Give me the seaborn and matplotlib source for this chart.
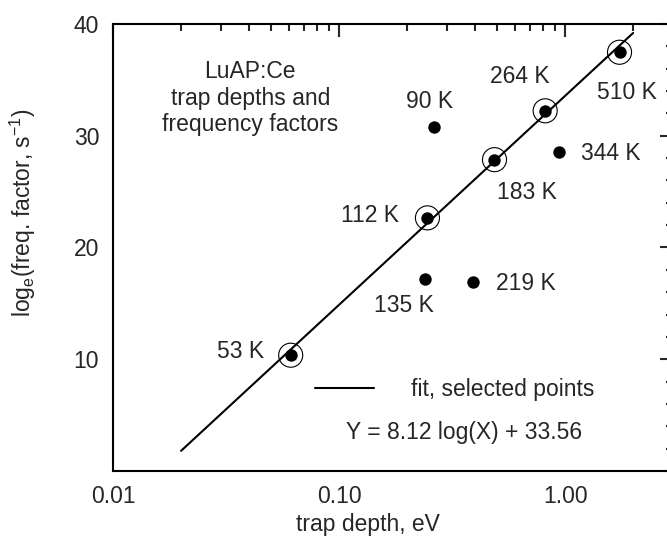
import numpy as np
import pandas as pd
import seaborn as sns
import matplotlib
matplotlib.use('Agg')
from matplotlib import pyplot as plt
from matplotlib.ticker import FixedLocator, LogLocator, MultipleLocator, NullFormatter

# trap data
temps = ['53 K', '112 K', '183 K', '264 K', '510 K', '90 K', '344 K', '135 K', '219 K']
depth = [0.0611, 0.246, 0.487, 0.816, 1.74, 0.263, 0.944, 0.239, 0.390]
ln_freq = [10.36, 22.65, 27.86, 32.23, 37.47, 30.74, 28.54, 17.14, 16.90]
selected = [True, True, True, True, True, False, False, False, False]

# fit line end points
fit_x = [0.02, 2.0]
fit_y = [1.8, 39.2]

x_ticks = [0.01, 0.1, 1.0]
x_tick_labels = ['0.01', '0.10', '1.00']
y_ticks = [10, 20, 30, 40]

# label offsets (points) from each marker
label_dx = [-36, -41, 23, -18, 5, -3, 37, -15, 38]
label_dy = [3, 2, -24, 25, -29, 19, -1, -19, -1]

df = pd.DataFrame({'depth': depth, 'lnf': ln_freq, 'temp': temps, 'sel': selected})
sel = df[df['sel']]

sns.set_style('white')
plt.rcParams['font.family'] = ['Liberation Sans', 'DejaVu Sans']
plt.rcParams['mathtext.fontset'] = 'custom'
plt.rcParams['mathtext.rm'] = 'Liberation Sans'
fs = 16.5

fig = plt.figure(figsize=(6.67, 5.4), dpi=100)
ax = fig.add_axes([0.1694, 0.1278, 0.8396, 0.8278])

sns.lineplot(x=fit_x, y=fit_y, ax=ax, color='black', linewidth=1.5, label='fit, selected points')
sns.scatterplot(data=sel, x='depth', y='lnf', ax=ax, s=300, facecolor='none',
                edgecolor='black', linewidth=0.8, legend=False, zorder=3)
sns.scatterplot(data=df, x='depth', y='lnf', ax=ax, s=80, color='black',
                edgecolor='black', linewidth=0, legend=False, zorder=4)

for i in range(len(df)):
    ax.annotate(temps[i], (depth[i], ln_freq[i]), xytext=(label_dx[i], label_dy[i]),
                textcoords='offset points', ha='center', va='center', fontsize=fs)

ax.set_xscale('log')
ax.set_xlim(0.01, 3)
ax.set_ylim(0, 40)
ax.xaxis.set_major_locator(FixedLocator(x_ticks))
ax.set_xticklabels(x_tick_labels)
ax.xaxis.set_minor_locator(LogLocator(base=10, subs=np.arange(2, 10)))
ax.xaxis.set_minor_formatter(NullFormatter())
ax.yaxis.set_major_locator(FixedLocator(y_ticks))
ax.yaxis.set_minor_locator(MultipleLocator(2))

ax.tick_params(which='both', direction='in', top=True, right=True, width=1.5, labelsize=fs)
ax.tick_params(which='major', length=9.5, pad=10)
ax.tick_params(which='minor', length=4.8)
for sp in ax.spines.values():
    sp.set_linewidth(1.5)
    sp.set_color('black')

ax.set_xlabel('trap depth, eV', fontsize=fs)
ax.xaxis.set_label_coords(0.455, -0.094)
ax.set_ylabel(r'log$_\mathregular{e}$(freq. factor, s$^\mathregular{-1}$)', fontsize=fs)
ax.yaxis.set_label_coords(-0.134, 0.577)

ax.text(0.245, 0.834, 'LuAP:Ce\ntrap depths and\nfrequency factors', transform=ax.transAxes,
        ha='center', va='center', fontsize=fs, linespacing=1.2)

ax.legend(loc='center', bbox_to_anchor=(0.61, 0.183), frameon=False, fontsize=fs,
          handlelength=2.6, handletextpad=1.6)
ax.text(0.627, 0.085, 'Y = 8.12 log(X) + 33.56', transform=ax.transAxes,
        ha='center', va='center', fontsize=fs)

fig.savefig('out.png', dpi=100)
